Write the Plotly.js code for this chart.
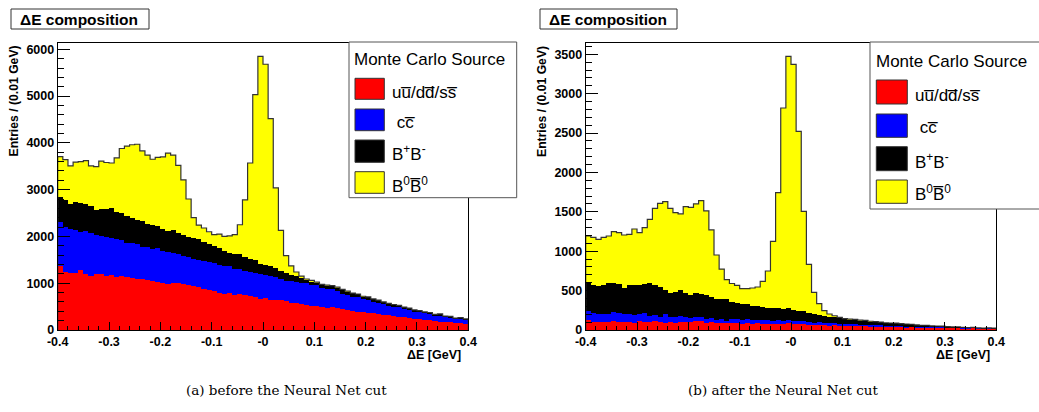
<!DOCTYPE html>
<html><head><meta charset="utf-8">
<script src="https://cdn.plot.ly/plotly-3.0.1.min.js"></script>
<style>html,body{margin:0;padding:0;background:#fff}#chart{width:1039px;height:412px}</style>
</head><body><div id="chart"></div>
<script>
// bin centres of Delta E (GeV), 0.01 GeV bins
const binCenters = [
-0.395,-0.385,-0.375,-0.365,-0.355,-0.345,-0.335,-0.325,-0.315,-0.305,
-0.295,-0.285,-0.275,-0.265,-0.255,-0.245,-0.235,-0.225,-0.215,-0.205,
-0.195,-0.185,-0.175,-0.165,-0.155,-0.145,-0.135,-0.125,-0.115,-0.105,
-0.095,-0.085,-0.075,-0.065,-0.055,-0.045,-0.035,-0.025,-0.015,-0.005,
0.005,0.015,0.025,0.035,0.045,0.055,0.065,0.075,0.085,0.095,
0.105,0.115,0.125,0.135,0.145,0.155,0.165,0.175,0.185,0.195,
0.205,0.215,0.225,0.235,0.245,0.255,0.265,0.275,0.285,0.295,
0.305,0.315,0.325,0.335,0.345,0.355,0.365,0.375,0.385,0.395];
const xTickVals = [-0.4,-0.3,-0.2,-0.1,0,0.1,0.2,0.3,0.4];
const xTickText = ["-0.4","-0.3","-0.2","-0.1","-0","0.1","0.2","0.3","0.4"];
const yTickValsA = [0,1000,2000,3000,4000,5000,6000];
const yTickValsB = [0,500,1000,1500,2000,2500,3000,3500];
const seriesNames = ["uu\u0305/dd\u0305/ss\u0305", " cc\u0305", "B<sup>+</sup>B<sup>-</sup>", "B<sup>0</sup>B\u0305<sup>0</sup>"];
const seriesColors = ["#ff0000", "#0000ff", "#000000", "#ffff00"];

// (a) before the Neural Net cut
const qqBefore = [1368,1247,1226,1211,1283,1197,1154,1190,1190,1154,
1169,1140,1161,1140,1105,1090,1100,1069,1055,1033,
1012,976,998,998,983,962,941,912,869,848,
827,798,777,790,755,760,741,727,705,670,
675,648,634,640,613,584,570,563,542,513,
506,500,477,485,470,449,428,413,392,378,
356,356,342,320,320,300,285,285,250,235,
228,214,214,192,178,164,164,157,142,128];
const ccBefore = [934,948,933,927,819,919,927,841,827,827,
791,798,763,727,748,741,682,698,669,713,
677,699,641,620,599,606,570,584,611,606,
605,599,584,571,556,537,513,513,514,520,
494,506,492,443,442,456,456,449,456,456,
449,405,407,384,364,321,313,299,306,277,
285,250,242,229,200,199,200,164,178,157,
150,142,128,114,128,106,100,71,93,86];
const bpbmBefore = [538,585,535,606,606,570,570,534,563,606,
641,592,570,577,548,521,548,499,521,470,
470,449,491,463,449,413,460,442,400,376,
368,363,319,289,306,335,306,285,281,230,
231,206,190,175,160,140,120,100,70,62,
50,55,65,70,72,90,80,70,65,60,
60,55,50,48,45,42,40,38,36,35,
33,30,30,28,35,27,25,24,27,22];
const b0b0Before = [865,860,816,846,892,934,859,925,1030,993,
969,1150,1386,1486,1559,1618,1500,1474,1405,1474,
1541,1656,1610,1439,1179,819,429,302,300,270,
240,290,320,360,423,618,1220,2045,3530,4430,
4280,3160,1724,872,375,190,94,38,22,29,
20,15,12,10,10,8,8,7,6,6,
5,5,5,4,4,4,3,3,3,3,
2,2,2,2,2,1,1,1,1,1];

// (b) after the Neural Net cut
const qqAfter = [127,106,97,105,97,118,106,97,105,85,
118,106,97,114,106,93,106,85,97,106,
106,114,110,85,97,85,92,85,88,84,
80,86,78,84,76,82,74,80,72,88,
78,72,76,66,62,68,60,57,62,54,
52,56,48,46,50,43,41,44,38,36,
39,34,31,33,29,27,30,25,23,26,
21,20,22,18,17,19,15,14,16,13];
const ccAfter = [114,106,106,98,102,106,114,100,95,105,
85,106,81,76,63,106,65,76,85,63,
42,55,60,55,50,42,50,33,57,55,
52,56,50,48,52,46,44,48,42,45,
40,38,41,36,30,28,30,26,24,26,
22,21,23,19,18,16,17,14,13,15,
12,11,12,10,9,10,8,8,9,7,
7,6,7,6,5,6,5,4,5,4];
const bpbmAfter = [351,359,356,373,393,377,364,330,377,381,
368,368,414,381,381,309,305,326,326,297,
296,305,287,304,278,267,246,272,215,210,
200,190,178,170,165,157,160,154,150,141,
138,133,125,114,105,96,88,81,75,69,
62,53,58,55,50,47,44,39,37,35,
33,32,30,28,25,21,20,18,17,16,
14,12,11,10,8,7,6,5,6,5];
const b0b0After = [601,605,592,600,601,647,652,679,638,711,
665,719,813,974,1058,1121,1069,1003,965,1100,
1113,1126,1185,1067,845,558,386,250,230,218,
193,193,227,244,325,464,848,1462,2554,3200,
3117,2279,1265,618,281,143,67,39,20,12,
8,7,6,6,5,5,4,4,4,3,
3,3,3,2,2,2,2,2,2,1,
1,1,1,1,1,1,1,1,1,1];

const W = 1039, H = 412;
const px = x => x / W;
const py = y => 1 - y / H;
const FONT = "Liberation Sans, Arial, Helvetica, sans-serif";

function stackTraces(series, xa, ya) {
  const traces = series.map((v, i) => ({
    type: 'bar', x: binCenters, y: v, width: 0.01, xaxis: xa, yaxis: ya,
    name: seriesNames[i], marker: {color: seriesColors[i], line: {width: 0}},
    showlegend: false, hoverinfo: 'skip'
  }));
  // outline of the stack top (step line)
  const totals = binCenters.map((c, j) => series.reduce((s, arr) => s + arr[j], 0));
  const ex = [binCenters[0] - 0.005], ey = [0];
  binCenters.forEach((c, j) => { ex.push(c - 0.005); ey.push(totals[j]); });
  ex.push(binCenters[binCenters.length - 1] + 0.005); ey.push(totals[totals.length - 1]);
  ex.push(binCenters[binCenters.length - 1] + 0.005); ey.push(0);
  traces.push({type: 'scatter', mode: 'lines', x: ex, y: ey, xaxis: xa, yaxis: ya,
    line: {shape: 'hv', color: '#333', width: 1.2}, showlegend: false, hoverinfo: 'skip'});
  return traces;
}

const data = [].concat(
  stackTraces([qqBefore, ccBefore, bpbmBefore, b0b0Before], 'x', 'y'),
  stackTraces([qqAfter, ccAfter, bpbmAfter, b0b0After], 'x2', 'y2')
);

const tickFont = {family: FONT, size: 12.5, color: '#000', weight: 'bold'};
function xAxis(dom) {
  return {domain: dom, range: [-0.4, 0.4], tickmode: 'array', tickvals: xTickVals, ticktext: xTickText,
    ticks: 'inside', ticklen: 8, tickwidth: 1, tickcolor: '#000',
    minor: {tick0: -0.4, dtick: 0.02, ticks: 'inside', ticklen: 4, tickcolor: '#000', tickwidth: 1},
    showline: true, linecolor: '#000', linewidth: 1, mirror: true, showgrid: false, zeroline: false,
    tickfont: tickFont, fixedrange: true};
}
function yAxis(top, vals, minorStep, anchor) {
  return {domain: [py(330), py(42.7)], range: [0, top], tickmode: 'array', tickvals: vals, ticktext: vals.map(String),
    ticks: 'inside', ticklen: 12, tickwidth: 1, tickcolor: '#000', anchor: anchor,
    minor: {tick0: 0, dtick: minorStep, ticks: 'inside', ticklen: 6, tickcolor: '#000', tickwidth: 1},
    showline: true, linecolor: '#000', linewidth: 1, mirror: true, showgrid: false, zeroline: false,
    tickfont: tickFont, fixedrange: true};
}

const shapes = [];
const annotations = [];
function rect(x0, y0, x1, y1, fill, line, lw) {
  shapes.push({type: 'rect', xref: 'paper', yref: 'paper', x0: px(x0), x1: px(x1), y0: py(y1), y1: py(y0),
    fillcolor: fill, line: {color: line, width: lw}, layer: 'above'});
}
function text(t, x, y, opts) {
  annotations.push(Object.assign({text: t, xref: 'paper', yref: 'paper', x: px(x), y: py(y), showarrow: false,
    xanchor: 'center', yanchor: 'middle', font: {family: FONT, size: 14, color: '#000'}}, opts || {}));
}

// title boxes
const titleFont = {family: FONT, size: 15.5, color: '#000', weight: 'bold'};
rect(11, 9, 149, 29, '#fff', '#333', 1);
text('\u0394E composition', 78.5, 19.5, {font: titleFont});
rect(540, 9, 677, 29, '#fff', '#333', 1);
text('\u0394E composition', 608, 19.5, {font: titleFont});

// axis titles
const axTitleFont = {family: FONT, size: 12.5, color: '#000', weight: 'bold'};
text('\u0394E [GeV]', 463, 354.5, {xanchor: 'right', font: axTitleFont});
text('\u0394E [GeV]', 992, 354.5, {xanchor: 'right', font: axTitleFont});
const yTitleFont = {family: FONT, size: 12.2, color: '#000', weight: 'bold'};
text('Entries / (0.01 GeV)', 14, 101.5, {textangle: -90, font: yTitleFont});
text('Entries / (0.01 GeV)', 542.5, 101.5, {textangle: -90, font: yTitleFont});

// legends
const legFont = {family: FONT, size: 17, color: '#000'};
function legend(bx0, by0, bx1, by1, hx, hy, sx0, sx1, rows, lx, ly) {
  rect(bx0, by0, bx1, by1, '#fff', '#555', 1);
  text('Monte Carlo Source', hx, hy, {xanchor: 'left', font: legFont});
  rows.forEach((r, i) => {
    rect(sx0, r[0], sx1, r[1], seriesColors[i], '#333', 1);
    text(seriesNames[i], lx, ly[i], {xanchor: 'left', font: legFont});
  });
}
legend(349, 42, 516.7, 197.7, 352, 59.5, 355, 384.3,
  [[78.3, 99.3], [109, 130.7], [140, 162.3], [171.7, 193.3]], 389.5, [92, 123, 153, 185]);
legend(870, 42, 1045, 209, 873.5, 61.5, 876.3, 907.3,
  [[80, 104], [114, 137.3], [146.7, 170.7], [180, 203.3]], 913, [95, 128, 161, 193]);

// captions
const capFont = {family: "DejaVu Serif, Liberation Serif, serif", size: 13.5, color: '#000'};
text('(a) before the Neural Net cut', 286, 390, {font: capFont});
text('(b) after the Neural Net cut', 783, 390, {font: capFont});

const layout = {
  width: W, height: H, margin: {l: 0, r: 0, t: 0, b: 0},
  paper_bgcolor: '#fff', plot_bgcolor: '#fff',
  barmode: 'stack', bargap: 0, bargroupgap: 0,
  font: {family: FONT, color: '#000'},
  xaxis: xAxis([px(57.7), px(468.3)]),
  yaxis: yAxis(6141, yTickValsA, 200, 'x'),
  xaxis2: Object.assign(xAxis([px(585.7), px(996.3)]), {anchor: 'y2'}),
  yaxis2: yAxis(3647, yTickValsB, 100, 'x2'),
  shapes: shapes, annotations: annotations, showlegend: false
};
layout.xaxis.anchor = 'y';

Plotly.newPlot('chart', data, layout, {staticPlot: true, displayModeBar: false});
</script></body></html>
